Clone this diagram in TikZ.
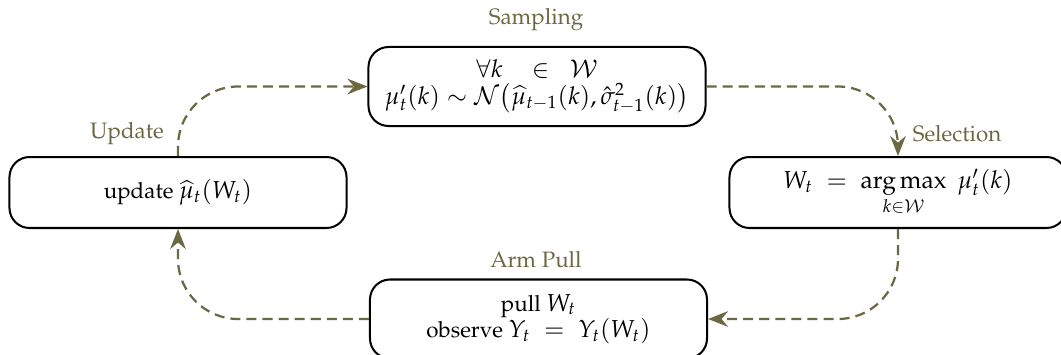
\documentclass[tikz,border=0pt]{standalone}
\usepackage[T1]{fontenc}
\usepackage{mathpazo}
\usepackage{amsmath}
\DeclareMathSizes{10}{11}{8}{6}
\usetikzlibrary{arrows.meta}
\definecolor{arrowc}{RGB}{107,104,66}
\begin{document}
\begin{tikzpicture}[x=0.448pt,y=-0.448pt,
  box/.style={draw,line width=0.9pt,rounded corners=9pt,minimum width=151pt,align=center,inner sep=1pt},
  flow/.style={draw=arrowc,line width=1pt,dash pattern=on 4.5pt off 2.7pt,rounded corners=27pt,
    -{Stealth[length=9pt,width=7pt,inset=3pt]}},
  lab/.style={text=arrowc,inner sep=1pt}]
\useasboundingbox (0,0) rectangle (1061,354);
\node[box,minimum height=35.4pt] (samp) at (537,86.5)
  {$\forall k \quad\in\;\; \mathcal{W}$\\
   $\mu'_t(k)\sim\mathcal{N}\bigl(\widehat{\mu}_{t-1}(k),\hat{\sigma}^2_{t-1}(k)\bigr)$};
\node[box,minimum height=31.8pt] (upd) at (178,192.5) {update $\widehat{\mu}_t(W_t)$};
\node[box,minimum height=31.8pt] (sel) at (898,192.5)
  {$W_t \;=\; \mathop{\arg\max}\limits_{k\in\mathcal{W}}\; \mu'_t(k)$};
\node[box,minimum height=35.4pt] (arm) at (538.5,319)
  {pull $W_t$\\ observe $Y_t \;=\; Y_t(W_t)$};
\draw[flow] (upd.north) |- (samp.west);
\draw[flow] (samp.east) -| (sel.north);
\draw[flow] (sel.south) |- (arm.east);
\draw[flow] (arm.west) -| (upd.south);
\node[lab] (lsamp) at (536,20) {Sampling};
\node[lab] (larm) at (536,259) {Arm Pull};
\node[lab] (lupd) at (127,134) {Update};
\node[lab] (lsel) at (957,134) {Selection};
\end{tikzpicture}
\end{document}
